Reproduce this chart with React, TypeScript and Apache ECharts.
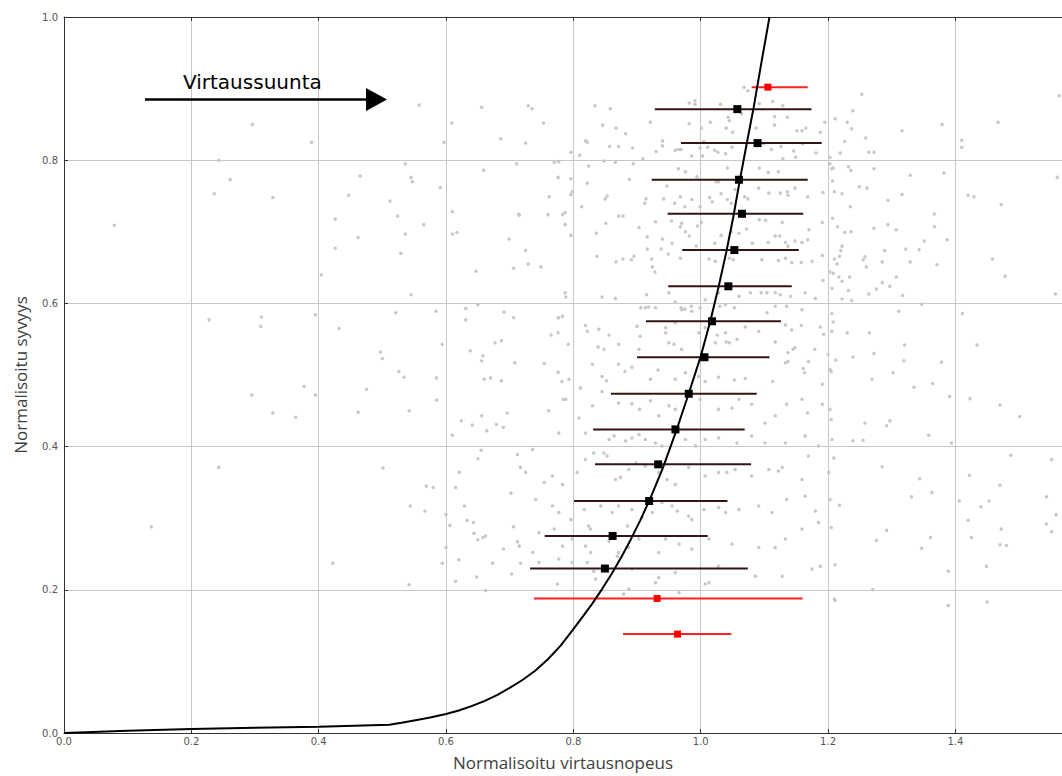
import React, { useEffect, useRef } from "react";
import * as echarts from "echarts";

// ---- axis ticks ----
const xTicks = [0, 0.2, 0.4, 0.6, 0.8, 1.0, 1.2, 1.4];
const X_MAX = 1.5674;
const yTicks = [0, 0.2, 0.4, 0.6, 0.8, 1.0];

// ---- mean profile (black error bars with square markers) ----
const meanX = [1.0575, 1.0893, 1.06, 1.0647, 1.0528, 1.0434, 1.0177, 1.0058, 0.9812, 0.9603, 0.9331, 0.919, 0.8616, 0.8495];
const meanY = [0.8713, 0.8239, 0.7727, 0.7252, 0.6745, 0.6239, 0.575, 0.5248, 0.4738, 0.424, 0.3752, 0.324, 0.2752, 0.2297];
const meanLo = [0.928, 0.969, 0.923, 0.948, 0.971, 0.949, 0.914, 0.9, 0.859, 0.831, 0.834, 0.801, 0.755, 0.732];
const meanHi = [1.174, 1.19, 1.168, 1.161, 1.154, 1.143, 1.126, 1.108, 1.088, 1.069, 1.079, 1.042, 1.011, 1.074];

// ---- excluded levels (red) ----
const redX = [1.1055, 0.9315, 0.9635];
const redY = [0.902, 0.1879, 0.1381];
const redLo = [1.08, 0.738, 0.878];
const redHi = [1.168, 1.16, 1.048];

// ---- fitted profile curve ----
const curveX = [0, 0.1, 0.2, 0.3, 0.4, 0.511, 0.53, 0.55, 0.575, 0.6, 0.62, 0.64, 0.66, 0.68, 0.7, 0.72, 0.74, 0.76, 0.78, 0.8, 0.815, 0.83, 0.845, 0.86, 0.875, 0.89, 0.905, 0.92, 0.94, 0.96, 0.98, 1.0, 1.015, 1.028, 1.04, 1.051, 1.061, 1.072, 1.083, 1.096, 1.108];
const curveY = [0, 0.003, 0.0056, 0.0073, 0.0088, 0.0116, 0.0142, 0.0175, 0.0217, 0.0265, 0.0315, 0.0375, 0.0445, 0.053, 0.063, 0.074, 0.087, 0.103, 0.122, 0.145, 0.163, 0.181, 0.201, 0.222, 0.245, 0.27, 0.297, 0.326, 0.369, 0.418, 0.471, 0.526, 0.575, 0.623, 0.671, 0.72, 0.77, 0.822, 0.873, 0.94, 1.0];

// ---- raw measurements (grey dots) ----
const dotsLeft = [
  [0.558, 0.877], [0.656, 0.874], [0.296, 0.85], [0.609, 0.852], [0.389, 0.825], [0.597, 0.825], [0.686, 0.83],
  [0.243, 0.8], [0.536, 0.795], [0.711, 0.795], [0.659, 0.786], [0.465, 0.778], [0.545, 0.776], [0.547, 0.77],
  [0.261, 0.773], [0.236, 0.753], [0.328, 0.748], [0.447, 0.751], [0.591, 0.762], [0.512, 0.743], [0.524, 0.722],
  [0.61, 0.728], [0.714, 0.725], [0.079, 0.709], [0.426, 0.718], [0.565, 0.71], [0.536, 0.697], [0.61, 0.697],
  [0.617, 0.699], [0.462, 0.692], [0.699, 0.69], [0.426, 0.677], [0.529, 0.67], [0.647, 0.645], [0.706, 0.649],
  [0.404, 0.64], [0.545, 0.612], [0.631, 0.593], [0.65, 0.598], [0.521, 0.587], [0.584, 0.589], [0.691, 0.588],
  [0.706, 0.58], [0.228, 0.577], [0.31, 0.581], [0.309, 0.568], [0.395, 0.584], [0.631, 0.577], [0.432, 0.565],
  [0.594, 0.543], [0.677, 0.545], [0.687, 0.548], [0.638, 0.534], [0.497, 0.532], [0.5, 0.523], [0.658, 0.527],
  [0.656, 0.52], [0.708, 0.517], [0.526, 0.505], [0.534, 0.497], [0.585, 0.496], [0.66, 0.494], [0.67, 0.496],
  [0.687, 0.492], [0.475, 0.48], [0.377, 0.484], [0.295, 0.472], [0.395, 0.472], [0.585, 0.465], [0.328, 0.447],
  [0.364, 0.441], [0.462, 0.448], [0.542, 0.45], [0.696, 0.447], [0.624, 0.436], [0.641, 0.43], [0.656, 0.443],
  [0.679, 0.431], [0.69, 0.427], [0.664, 0.422], [0.61, 0.416], [0.655, 0.395], [0.65, 0.383], [0.712, 0.389],
  [0.243, 0.371], [0.501, 0.37], [0.717, 0.371], [0.621, 0.364], [0.569, 0.345], [0.58, 0.343], [0.615, 0.343],
  [0.702, 0.335], [0.544, 0.317], [0.629, 0.317], [0.567, 0.31], [0.6, 0.305], [0.137, 0.288], [0.606, 0.29],
  [0.633, 0.297], [0.643, 0.294], [0.706, 0.288], [0.644, 0.279], [0.65, 0.27], [0.658, 0.273], [0.662, 0.275],
  [0.712, 0.267], [0.6, 0.259], [0.69, 0.257], [0.422, 0.237], [0.594, 0.237], [0.62, 0.242], [0.673, 0.237],
  [0.717, 0.237], [0.648, 0.218], [0.703, 0.222], [0.615, 0.212], [0.542, 0.207], [0.662, 0.199],
];

const dotsRight = [
  [1.253, 0.892], [1.239, 0.869], [1.211, 0.858], [1.23, 0.853], [1.237, 0.844], [1.316, 0.841], [1.379, 0.85],
  [1.259, 0.831], [1.226, 0.826], [1.219, 0.81], [1.264, 0.811], [1.272, 0.811], [1.467, 0.853], [1.41, 0.828],
  [1.41, 0.818], [1.563, 0.89], [1.203, 0.804], [1.206, 0.788], [1.232, 0.791], [1.236, 0.786], [1.272, 0.788],
  [1.207, 0.771], [1.329, 0.779], [1.382, 0.782], [1.249, 0.763], [1.261, 0.761], [1.222, 0.753], [1.316, 0.752],
  [1.294, 0.744], [1.235, 0.735], [1.367, 0.725], [1.215, 0.707], [1.226, 0.699], [1.236, 0.7], [1.272, 0.705],
  [1.294, 0.71], [1.307, 0.703], [1.367, 0.707], [1.387, 0.689], [1.351, 0.687], [1.222, 0.68], [1.22, 0.674],
  [1.289, 0.674], [1.322, 0.676], [1.343, 0.675], [1.21, 0.662], [1.218, 0.666], [1.255, 0.661], [1.258, 0.665],
  [1.214, 0.655], [1.26, 0.651], [1.285, 0.658], [1.329, 0.658], [1.371, 0.654], [1.203, 0.644], [1.208, 0.642],
  [1.217, 0.637], [1.234, 0.637], [1.222, 0.631], [1.307, 0.637], [1.285, 0.629], [1.297, 0.624], [1.42, 0.751],
  [1.429, 0.749], [1.472, 0.738], [1.56, 0.776], [1.458, 0.662], [1.478, 0.638], [1.232, 0.618], [1.276, 0.62],
  [1.264, 0.613], [1.222, 0.606], [1.237, 0.604], [1.317, 0.611], [1.347, 0.599], [1.311, 0.589], [1.206, 0.586],
  [1.208, 0.574], [1.411, 0.586], [1.557, 0.613], [1.23, 0.559], [1.265, 0.559], [1.32, 0.542], [1.434, 0.542],
  [1.212, 0.521], [1.239, 0.525], [1.272, 0.53], [1.319, 0.52], [1.378, 0.518], [1.205, 0.505], [1.302, 0.503],
  [1.269, 0.494], [1.335, 0.483], [1.364, 0.488], [1.391, 0.47], [1.423, 0.467], [1.47, 0.458], [1.501, 0.442],
  [1.203, 0.452], [1.205, 0.438], [1.258, 0.433], [1.297, 0.436], [1.292, 0.429], [1.358, 0.416], [1.239, 0.408],
  [1.255, 0.409], [1.394, 0.405], [1.487, 0.388], [1.551, 0.382], [1.209, 0.384], [1.285, 0.372], [1.344, 0.355],
  [1.363, 0.336], [1.331, 0.33], [1.218, 0.318], [1.422, 0.36], [1.47, 0.346], [1.406, 0.324], [1.44, 0.316],
  [1.453, 0.324], [1.543, 0.33], [1.558, 0.305], [1.205, 0.287], [1.292, 0.283], [1.276, 0.269], [1.361, 0.273],
  [1.347, 0.258], [1.42, 0.297], [1.472, 0.285], [1.425, 0.273], [1.47, 0.263], [1.48, 0.262], [1.543, 0.292],
  [1.551, 0.281], [1.211, 0.235], [1.389, 0.226], [1.449, 0.233], [1.21, 0.187], [1.389, 0.178], [1.45, 0.183],
  [1.27, 0.2],
];

const dotsUpper = [
  [0.729, 0.876], [0.735, 0.872], [0.834, 0.876], [0.858, 0.872], [0.753, 0.852], [0.846, 0.849], [0.867, 0.845],
  [0.882, 0.837], [0.921, 0.853], [0.982, 0.88], [0.991, 0.883], [0.991, 0.878], [1.031, 0.878], [1.068, 0.902],
  [1.074, 0.897], [1.113, 0.882], [1.092, 0.879], [1.129, 0.876], [0.982, 0.851], [1.015, 0.853], [1.043, 0.86],
  [1.045, 0.855], [1.064, 0.865], [1.04, 0.845], [1.05, 0.839], [1.001, 0.845], [1.087, 0.845], [1.116, 0.861],
  [1.116, 0.849], [1.136, 0.86], [1.151, 0.841], [1.159, 0.841], [1.165, 0.845], [1.188, 0.839], [1.195, 0.853],
  [0.725, 0.824], [0.819, 0.827], [0.822, 0.825], [0.857, 0.819], [0.871, 0.819], [0.893, 0.817], [0.796, 0.811],
  [0.81, 0.807], [0.93, 0.812], [0.94, 0.827], [0.94, 0.82], [0.96, 0.814], [0.965, 0.815], [0.969, 0.815],
  [1.005, 0.826], [0.999, 0.817], [1.011, 0.818], [1.022, 0.814], [1.027, 0.811], [0.986, 0.806], [1.003, 0.806],
  [1.039, 0.809], [1.049, 0.818], [1.099, 0.823], [1.111, 0.815], [1.126, 0.819], [1.146, 0.813], [1.16, 0.823],
  [1.181, 0.81], [1.149, 0.804], [1.129, 0.802], [0.77, 0.797], [0.777, 0.798], [0.848, 0.799], [0.866, 0.797],
  [0.909, 0.802], [0.894, 0.795], [1.203, 0.795], [1.208, 0.789], [0.776, 0.776], [0.796, 0.774], [0.822, 0.768],
  [0.888, 0.773], [0.824, 0.792], [0.965, 0.788], [0.976, 0.784], [0.994, 0.777], [1.024, 0.77], [1.028, 0.77],
  [1.042, 0.789], [0.947, 0.764], [0.942, 0.746], [0.968, 0.749], [0.959, 0.74], [0.975, 0.735], [0.986, 0.745],
  [0.999, 0.735], [1.014, 0.748], [1.018, 0.742], [1.032, 0.753], [1.042, 0.745], [1.048, 0.74], [1.069, 0.749],
  [1.074, 0.746], [1.054, 0.759], [1.107, 0.754], [1.125, 0.754], [1.136, 0.756], [1.137, 0.751], [1.091, 0.761],
  [1.092, 0.789], [1.106, 0.783], [1.122, 0.784], [1.148, 0.761], [1.168, 0.749], [1.192, 0.755], [1.21, 0.756],
  [0.762, 0.749], [0.796, 0.752], [0.798, 0.756], [0.813, 0.735], [0.853, 0.75], [0.85, 0.746], [0.912, 0.74],
  [0.914, 0.746], [0.871, 0.722], [0.878, 0.722], [0.76, 0.724], [0.783, 0.724], [0.787, 0.727], [0.787, 0.71],
  [0.851, 0.712], [0.903, 0.706], [0.929, 0.714], [0.954, 0.715], [0.968, 0.707], [0.97, 0.712], [1.001, 0.713],
  [0.995, 0.708], [1.048, 0.7], [1.072, 0.704], [1.092, 0.717], [1.102, 0.716], [1.128, 0.713], [1.17, 0.703],
  [1.191, 0.713], [1.207, 0.719], [0.715, 0.723], [0.836, 0.698], [0.796, 0.695], [0.916, 0.693], [0.94, 0.69],
  [0.955, 0.684], [0.976, 0.7], [0.982, 0.694], [1.022, 0.684], [1.032, 0.695], [1.06, 0.698], [1.081, 0.684],
  [1.106, 0.685], [1.117, 0.694], [1.124, 0.694], [1.133, 0.685], [1.137, 0.68], [1.148, 0.687], [1.159, 0.685],
  [1.168, 0.689], [0.725, 0.674], [0.729, 0.655], [0.749, 0.651], [0.837, 0.666], [0.867, 0.658], [0.878, 0.662],
  [0.895, 0.666], [0.891, 0.661], [0.923, 0.662], [0.938, 0.676], [0.916, 0.676], [0.924, 0.651], [0.928, 0.644],
  [0.993, 0.68], [1.013, 0.662], [1.023, 0.659], [1.045, 0.663], [1.051, 0.661], [1.096, 0.661], [1.122, 0.66],
  [1.133, 0.663], [1.143, 0.657], [1.158, 0.657], [1.175, 0.659], [1.191, 0.667], [0.949, 0.669], [0.968, 0.663],
  [0.787, 0.615], [0.788, 0.609], [0.845, 0.609], [0.866, 0.607], [0.915, 0.612], [0.95, 0.615], [0.999, 0.594],
  [0.96, 0.602], [0.969, 0.594], [0.975, 0.592], [0.985, 0.596], [1.007, 0.605], [1.028, 0.615], [1.039, 0.598],
  [1.06, 0.61], [1.078, 0.615], [1.095, 0.615], [1.104, 0.615], [1.117, 0.615], [1.125, 0.612], [1.141, 0.61],
  [1.164, 0.615], [1.18, 0.607], [1.192, 0.632], [1.206, 0.621], [0.913, 0.594], [0.906, 0.594], [0.929, 0.594],
  [0.777, 0.58], [0.783, 0.582],
];

const dotsLower = [
  [0.918, 0.595], [0.97, 0.591], [0.986, 0.589], [1.03, 0.596], [1.053, 0.594], [1.104, 0.587], [1.117, 0.596],
  [1.135, 0.596], [1.159, 0.591], [0.776, 0.58], [0.819, 0.569], [0.822, 0.561], [0.84, 0.564], [0.856, 0.556],
  [0.9, 0.568], [0.905, 0.554], [0.945, 0.566], [0.945, 0.559], [0.96, 0.573], [0.997, 0.559], [1.007, 0.566],
  [1.026, 0.556], [1.039, 0.559], [1.07, 0.567], [1.091, 0.561], [1.133, 0.57], [1.143, 0.563], [1.158, 0.569],
  [1.188, 0.567], [1.193, 0.557], [0.765, 0.556], [0.776, 0.559], [0.792, 0.543], [0.839, 0.539], [0.848, 0.536],
  [0.871, 0.543], [0.903, 0.536], [0.95, 0.545], [0.958, 0.543], [0.97, 0.536], [1.023, 0.545], [1.04, 0.546],
  [1.045, 0.545], [1.057, 0.55], [1.117, 0.546], [1.137, 0.531], [1.145, 0.536], [1.148, 0.538], [1.179, 0.536],
  [1.2, 0.529], [0.754, 0.516], [0.776, 0.504], [0.782, 0.491], [0.793, 0.494], [0.811, 0.482], [0.83, 0.515],
  [0.845, 0.498], [0.852, 0.492], [0.871, 0.515], [0.881, 0.505], [0.892, 0.511], [0.921, 0.494], [0.933, 0.507],
  [0.96, 0.494], [0.976, 0.503], [0.997, 0.498], [1.007, 0.491], [1.028, 0.497], [1.053, 0.493], [1.07, 0.495],
  [1.113, 0.491], [1.133, 0.517], [1.137, 0.519], [1.161, 0.509], [1.163, 0.503], [1.169, 0.519], [1.191, 0.487],
  [1.203, 0.508], [1.206, 0.561], [0.761, 0.45], [0.784, 0.466], [0.788, 0.466], [0.809, 0.44], [0.83, 0.457],
  [0.845, 0.477], [0.871, 0.461], [0.892, 0.46], [0.904, 0.452], [0.921, 0.464], [0.934, 0.443], [0.95, 0.457],
  [0.96, 0.452], [0.999, 0.466], [1.028, 0.452], [1.049, 0.454], [1.06, 0.466], [1.08, 0.459], [1.101, 0.433],
  [1.117, 0.443], [1.135, 0.459], [1.159, 0.466], [1.168, 0.447], [1.191, 0.459], [0.777, 0.419], [0.819, 0.419],
  [0.856, 0.41], [0.864, 0.415], [0.882, 0.408], [0.892, 0.412], [0.903, 0.417], [0.913, 0.41], [0.929, 0.405],
  [0.939, 0.401], [0.976, 0.41], [0.992, 0.401], [1.007, 0.41], [1.028, 0.412], [1.057, 0.405], [1.08, 0.415],
  [1.101, 0.405], [1.133, 0.405], [1.164, 0.415], [1.185, 0.401], [1.206, 0.41], [0.736, 0.396], [0.725, 0.364],
  [0.754, 0.35], [0.767, 0.359], [0.783, 0.347], [0.806, 0.364], [0.819, 0.382], [0.832, 0.391], [0.848, 0.391],
  [0.853, 0.387], [0.866, 0.354], [0.874, 0.357], [0.887, 0.368], [0.898, 0.377], [0.913, 0.373], [0.934, 0.364],
  [0.947, 0.354], [0.96, 0.347], [0.981, 0.371], [1.007, 0.359], [1.028, 0.364], [1.041, 0.364], [1.054, 0.368],
  [1.08, 0.359], [1.107, 0.368], [1.122, 0.366], [1.128, 0.371], [1.159, 0.354], [1.169, 0.387], [1.201, 0.364],
  [0.741, 0.326], [0.767, 0.317], [0.777, 0.308], [0.796, 0.298], [0.817, 0.312], [0.824, 0.289], [0.827, 0.285],
  [0.843, 0.317], [0.861, 0.308], [0.871, 0.317], [0.885, 0.289], [0.892, 0.312], [0.908, 0.301], [0.924, 0.308],
  [0.939, 0.322], [0.955, 0.317], [0.963, 0.31], [0.981, 0.303], [0.986, 0.298], [1.005, 0.312], [1.028, 0.315],
  [1.039, 0.308], [1.06, 0.312], [1.091, 0.317], [1.112, 0.308], [1.135, 0.326], [1.164, 0.331], [1.18, 0.31],
  [1.203, 0.326], [0.746, 0.28], [0.77, 0.285], [0.783, 0.261], [0.798, 0.271], [0.819, 0.261], [0.827, 0.252],
  [0.856, 0.268], [0.869, 0.247], [0.887, 0.259], [0.903, 0.271], [0.934, 0.252], [0.945, 0.271], [0.966, 0.264],
  [0.986, 0.257], [1.013, 0.271], [1.049, 0.264], [1.091, 0.259], [1.117, 0.259], [1.133, 0.271], [1.159, 0.285],
  [1.185, 0.294], [0.715, 0.261], [0.736, 0.252], [0.746, 0.238], [0.777, 0.243], [0.798, 0.238], [0.822, 0.238],
  [0.832, 0.226], [0.892, 0.229], [0.934, 0.217], [0.96, 0.224], [1.013, 0.21], [1.028, 0.233], [1.086, 0.219],
  [1.128, 0.219], [1.175, 0.229], [1.188, 0.233], [0.775, 0.208], [0.835, 0.215], [0.929, 0.21], [0.871, 0.252],
  [1.211, 0.185], [0.879, 0.194], [0.887, 0.201], [0.966, 0.196], [1.007, 0.208],
];

const FLOW_LABEL = "Virtaussuunta";
const X_NAME = "Normalisoitu virtausnopeus";
const Y_NAME = "Normalisoitu syvyys";

function zip3(a: number[], b: number[], c: number[]) {
  return a.map((v, i) => [v, b[i], c[i]]);
}
function zip2(a: number[], b: number[]) {
  return a.map((v, i) => [v, b[i]]);
}

function errorBarSeries(data: number[][], color: string) {
  return {
    type: "custom",
    xAxisIndex: 0,
    yAxisIndex: 0,
    z: 3,
    data,
    encode: { x: [0, 2], y: 1 },
    renderItem: (params: any, api: any) => {
      const y = api.value(1);
      const p1 = api.coord([api.value(0), y]);
      const p2 = api.coord([api.value(2), y]);
      return {
        type: "line",
        shape: { x1: p1[0], y1: p1[1], x2: p2[0], y2: p2[1] },
        style: { stroke: color, lineWidth: 2 },
      };
    },
  };
}

export default function App() {
  const ref = useRef<HTMLDivElement>(null);

  useEffect(() => {
    if (!ref.current) return;
    const chart = echarts.init(ref.current, undefined, { renderer: "svg" });
    const tickFont = {
      fontFamily: "DejaVu Sans",
      fontSize: 10,
      color: "#555555",
    };
    const allDots = [...dotsLeft, ...dotsRight, ...dotsUpper, ...dotsLower];
    chart.setOption({
      animation: false,
      backgroundColor: "#ffffff",
      grid: { left: 64, top: 17, right: -2, bottom: 42 },
      xAxis: [
        {
          type: "value",
          min: 0,
          max: X_MAX,
          interval: 0.2,
          name: X_NAME,
          nameLocation: "middle",
          nameGap: 21,
          nameTextStyle: { fontFamily: "Open Sans", fontSize: 17, color: "#404040" },
          axisLine: { show: true, onZero: false, lineStyle: { color: "#333333", width: 1 } },
          axisTick: { show: true, inside: true, length: 4, lineStyle: { color: "#333333" } },
          axisLabel: {
            ...tickFont,
            margin: 3,
            showMaxLabel: false,
            formatter: (v: number) => (xTicks.some((t) => Math.abs(t - v) < 1e-6) ? v.toFixed(1) : ""),
          },
          splitLine: { show: true, lineStyle: { color: "#c8c8c8", width: 1 } },
        },
        {
          type: "value",
          position: "top",
          min: 0,
          max: X_MAX,
          interval: 0.2,
          axisLine: { show: true, onZero: false, lineStyle: { color: "#333333", width: 1 } },
          axisTick: { show: true, inside: true, length: 4, lineStyle: { color: "#333333" } },
          axisLabel: { show: false },
          splitLine: { show: false },
        },
      ],
      yAxis: {
        type: "value",
        min: 0,
        max: 1,
        interval: 0.2,
        name: Y_NAME,
        nameLocation: "middle",
        nameGap: 35,
        nameTextStyle: { fontFamily: "Open Sans", fontSize: 17, color: "#404040" },
        axisLine: { show: true, onZero: false, lineStyle: { color: "#333333", width: 1 } },
        axisTick: { show: true, inside: true, length: 4, lineStyle: { color: "#333333" } },
        axisLabel: {
          ...tickFont,
          margin: 6,
          formatter: (v: number) => (yTicks.some((t) => Math.abs(t - v) < 1e-6) ? v.toFixed(1) : ""),
        },
        splitLine: { show: true, lineStyle: { color: "#c8c8c8", width: 1 } },
      },
      graphic: [
        {
          type: "line",
          shape: { x1: 145, y1: 99.5, x2: 369, y2: 99.5 },
          style: { stroke: "#000000", lineWidth: 2.5 },
          z: 10,
        },
        {
          type: "polygon",
          shape: { points: [[366, 88], [387, 99.5], [366, 111]] },
          style: { fill: "#000000" },
          z: 10,
        },
        {
          type: "text",
          x: 183,
          y: 82,
          style: {
            text: FLOW_LABEL,
            font: '20px "DejaVu Sans"',
            fill: "#000000",
            verticalAlign: "middle",
            align: "left",
          },
          z: 10,
        },
      ],
      series: [
        {
          type: "scatter",
          data: allDots,
          symbol: "circle",
          symbolSize: 3.5,
          itemStyle: { color: "#c8c8c8", opacity: 1 },
          z: 1,
          silent: true,
        },
        errorBarSeries(zip3(meanLo, meanY, meanHi), "#331414"),
        errorBarSeries(zip3(redLo, redY, redHi), "#ff2020"),
        {
          type: "line",
          data: zip2(curveX, curveY),
          showSymbol: false,
          symbol: "none",
          smooth: false,
          lineStyle: { color: "#000000", width: 2 },
          z: 4,
        },
        {
          type: "scatter",
          data: zip2(meanX, meanY),
          symbol: "rect",
          symbolSize: 8,
          itemStyle: { color: "#000000", opacity: 1 },
          z: 5,
        },
        {
          type: "scatter",
          data: zip2(redX, redY),
          symbol: "rect",
          symbolSize: 7,
          itemStyle: { color: "#ff0000", opacity: 1 },
          z: 5,
        },
      ],
    });
    return () => chart.dispose();
  }, []);

  return (
    <div
      ref={ref}
      style={{ position: "fixed", left: 0, top: 0, width: 1062, height: 776, background: "#ffffff" }}
    />
  );
}
